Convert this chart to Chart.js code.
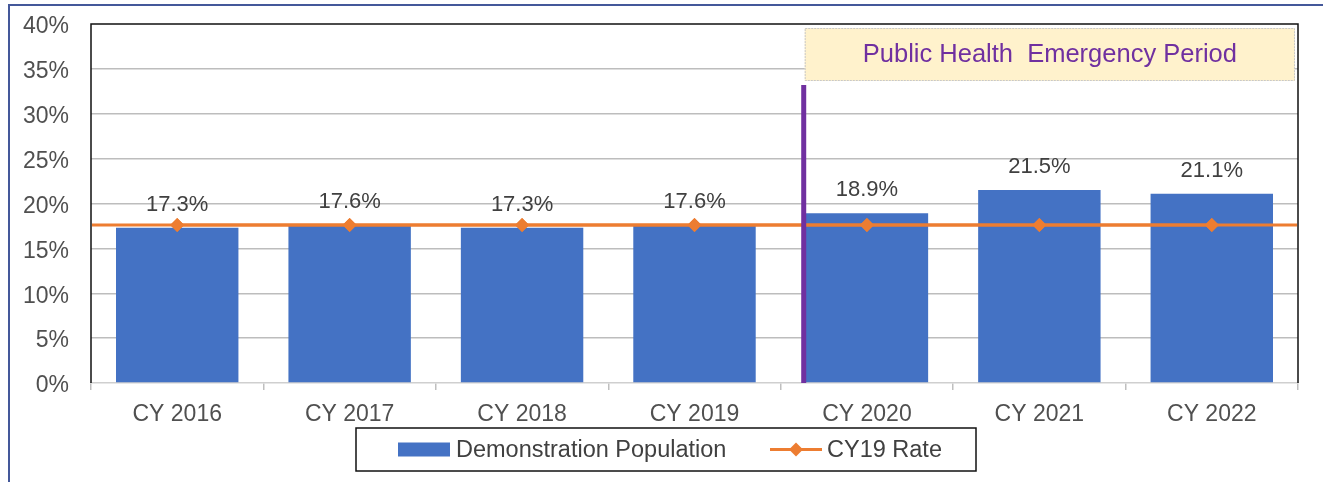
<!DOCTYPE html>
<html>
<head>
<meta charset="utf-8">
<script src="https://cdn.jsdelivr.net/npm/chart.js@4.4.1/dist/chart.umd.min.js"></script>
<style>
  html, body { margin: 0; padding: 0; background: #fff; overflow: hidden; }
  #wrap { position: relative; width: 1323px; height: 482px; }
  #frame { position: absolute; left: 8px; top: 4px; width: 1340px; height: 520px;
           border: 2px solid #44589A; box-sizing: border-box; }
  #chart { position: absolute; left: 0; top: 0; }
</style>
</head>
<body>
<div id="wrap">
  <div id="frame"></div>
  <canvas id="chart" width="1323" height="482"></canvas>
</div>
<script>
'use strict';

/* ── Datos ── */
const categories = ['CY 2016', 'CY 2017', 'CY 2018', 'CY 2019', 'CY 2020', 'CY 2021', 'CY 2022'];
const demoPopulation = [17.3, 17.6, 17.3, 17.6, 18.9, 21.5, 21.1];
const cy19Rate = [17.6, 17.6, 17.6, 17.6, 17.6, 17.6, 17.6];
const seriesNames = ['Demonstration Population', 'CY19 Rate'];
const yMin = 0, yMax = 40, yStep = 5;
const pheLabel = 'Public Health  Emergency Period';
const pheStart = 'CY 2020';

const FONT = '"Liberation Sans", Arial, sans-serif';
const BLUE = '#4472C4';
const ORANGE = '#ED7D31';
const PURPLE = '#7030A0';

/* ── Plot border (top / left / right) ── */
const plotBorder = {
  id: 'plotBorder',
  beforeDatasetsDraw(chart) {
    const { ctx, chartArea: a } = chart;
    ctx.save();
    ctx.strokeStyle = '#111';
    ctx.lineWidth = 1.5;
    ctx.beginPath();
    ctx.moveTo(a.left, a.bottom);
    ctx.lineTo(a.left, a.top);
    ctx.lineTo(a.right, a.top);
    ctx.lineTo(a.right, a.bottom);
    ctx.stroke();
    ctx.restore();
  }
};

/* ── Full-width CY19 line, value labels, PHE marker, legend ── */
const extras = {
  id: 'extras',
  afterDatasetsDraw(chart) {
    const { ctx, chartArea: a, scales } = chart;
    const y = scales.y;

    // línea de referencia a todo el ancho
    ctx.save();
    ctx.strokeStyle = ORANGE;
    ctx.lineWidth = 3;
    ctx.beginPath();
    ctx.moveTo(a.left + 1, y.getPixelForValue(cy19Rate[0]));
    ctx.lineTo(a.right - 1, y.getPixelForValue(cy19Rate[0]));
    ctx.stroke();
    ctx.restore();

    // markers on top again
    const lineMeta = chart.getDatasetMeta(1);
    lineMeta.data.forEach(pt => pt.draw(ctx, a));

    // etiquetas de valor
    const barMeta = chart.getDatasetMeta(0);
    ctx.save();
    ctx.font = '22px ' + FONT;
    ctx.fillStyle = '#404040';
    ctx.textAlign = 'center';
    ctx.textBaseline = 'middle';
    barMeta.data.forEach((bar, i) => {
      ctx.fillText(demoPopulation[i].toFixed(1) + '%', bar.x, bar.y - 23);
    });
    ctx.restore();

    // periodo de emergencia
    const bar = barMeta.data[categories.indexOf(pheStart)];
    const px = bar.x - bar.width / 2 - 2;
    const boxTop = a.top + 4, boxBottom = a.top + 57;
    const boxLeft = px + 1, boxRight = a.right - 3;

    ctx.save();
    ctx.fillStyle = '#FFF2CC';
    ctx.fillRect(boxLeft, boxTop, boxRight - boxLeft, boxBottom - boxTop);
    ctx.strokeStyle = '#C8C8C8';
    ctx.lineWidth = 1;
    ctx.setLineDash([2, 1]);
    ctx.strokeRect(boxLeft + 0.5, boxTop + 0.5, boxRight - boxLeft - 1, boxBottom - boxTop - 1);
    ctx.setLineDash([]);
    ctx.font = '25.5px ' + FONT;
    ctx.fillStyle = PURPLE;
    ctx.textAlign = 'center';
    ctx.textBaseline = 'middle';
    ctx.fillText(pheLabel, (boxLeft + boxRight) / 2, (boxTop + boxBottom) / 2);

    ctx.strokeStyle = PURPLE;
    ctx.lineWidth = 5;
    ctx.beginPath();
    ctx.moveTo(px, boxBottom + 4);
    ctx.lineTo(px, a.bottom);
    ctx.stroke();
    ctx.restore();
  },
  afterDraw(chart) {
    const { ctx } = chart;
    const L = { left: 356, top: 428, right: 976, bottom: 471 };
    const cy = (L.top + L.bottom) / 2;
    ctx.save();
    ctx.strokeStyle = '#111';
    ctx.lineWidth = 1.5;
    ctx.strokeRect(L.left, L.top, L.right - L.left, L.bottom - L.top);

    ctx.fillStyle = BLUE;
    ctx.fillRect(398, cy - 7, 52, 14);

    ctx.font = '23.5px ' + FONT;
    ctx.fillStyle = '#404040';
    ctx.textBaseline = 'middle';
    ctx.fillText(seriesNames[0], 456, cy + 1);

    ctx.strokeStyle = ORANGE;
    ctx.lineWidth = 3;
    ctx.beginPath();
    ctx.moveTo(770, cy);
    ctx.lineTo(822, cy);
    ctx.stroke();
    ctx.fillStyle = ORANGE;
    ctx.beginPath();
    ctx.moveTo(796, cy - 7);
    ctx.lineTo(803, cy);
    ctx.lineTo(796, cy + 7);
    ctx.lineTo(789, cy);
    ctx.closePath();
    ctx.fill();

    ctx.fillStyle = '#404040';
    ctx.fillText(seriesNames[1], 827, cy + 1);
    ctx.restore();
  }
};

new Chart(document.getElementById('chart'), {
  data: {
    labels: categories,
    datasets: [
      {
        type: 'bar',
        label: seriesNames[0],
        data: demoPopulation,
        backgroundColor: BLUE,
        borderWidth: 0,
        categoryPercentage: 1,
        barPercentage: 0.71,
        order: 2
      },
      {
        type: 'line',
        label: seriesNames[1],
        data: cy19Rate,
        borderColor: ORANGE,
        borderWidth: 3,
        pointStyle: 'rectRot',
        pointRadius: 7,
        pointBackgroundColor: ORANGE,
        pointBorderColor: ORANGE,
        pointBorderWidth: 0,
        order: 1
      }
    ]
  },
  options: {
    responsive: false,
    devicePixelRatio: 1,
    animation: false,
    layout: { padding: { left: 0, top: 24, right: 25, bottom: 39 } },
    plugins: {
      legend: { display: false },
      tooltip: { enabled: false }
    },
    scales: {
      x: {
        grid: { drawOnChartArea: false, drawTicks: true, tickLength: 7, color: '#BFBFBF', lineWidth: 1.5 },
        border: { display: true, color: '#CFCFCF', width: 1.5, dash: [2, 2] },
        ticks: { color: '#505050', font: { family: FONT, size: 23 }, padding: 11 },
        afterFit(scale) { scale.height = 60; }
      },
      y: {
        min: yMin,
        max: yMax,
        grid: {
          drawTicks: false,
          lineWidth: 1.5,
          color: c => (c.tick.value === yMin || c.tick.value === yMax) ? 'rgba(0,0,0,0)' : '#BDBDBD'
        },
        border: { display: false },
        ticks: {
          stepSize: yStep,
          color: '#505050',
          font: { family: FONT, size: 23 },
          padding: 22,
          labelOffset: 3,
          callback: v => v + '%'
        },
        afterFit(scale) {
          scale.width = 91;
          scale.paddingTop = 0;
          scale.paddingBottom = 0;
        }
      }
    }
  },
  plugins: [plotBorder, extras]
});
</script>
</body>
</html>
